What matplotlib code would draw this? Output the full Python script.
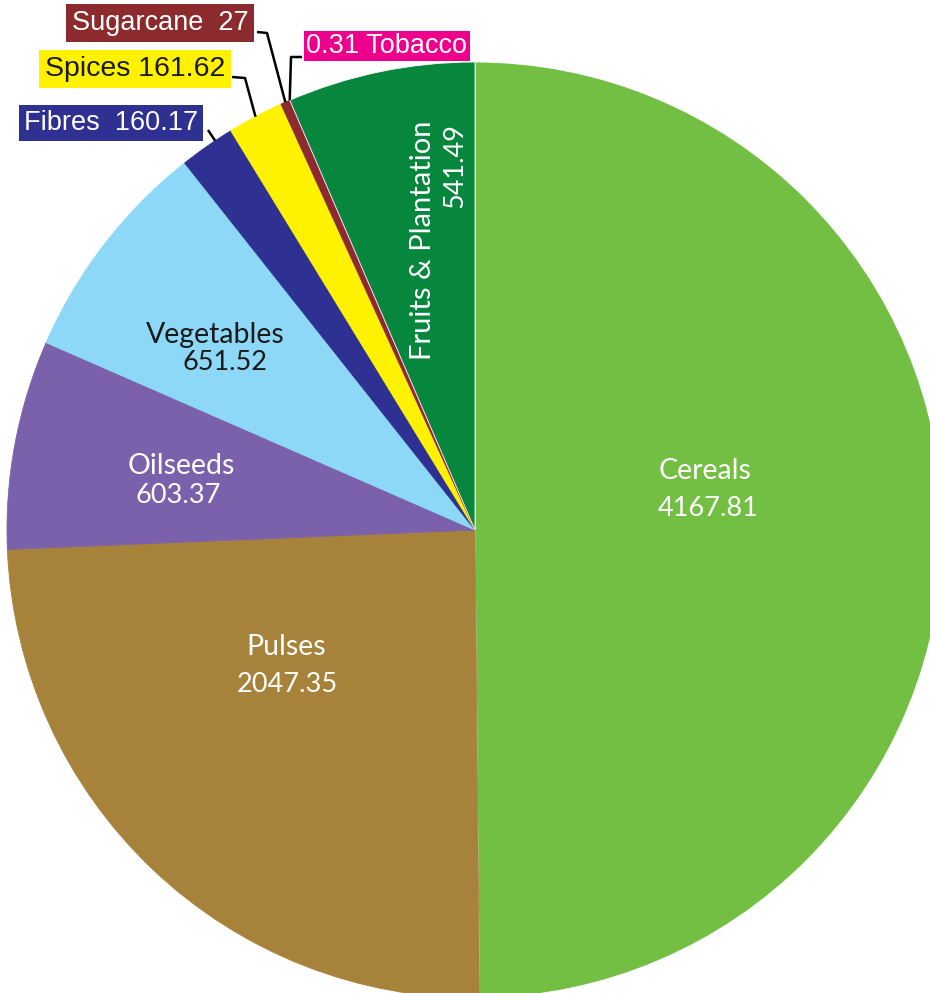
import numpy as np
import matplotlib
matplotlib.use("Agg")
import matplotlib.pyplot as plt

# crop groups and their values
crops = ["Cereals", "Pulses", "Oilseeds", "Vegetables", "Fibres",
         "Spices", "Sugarcane", "Tobacco", "Fruits & Plantation"]
values = [4167.81, 2047.35, 603.37, 651.52, 160.17, 161.62, 27, 0.31, 541.49]
value_text = ["4167.81", "2047.35", "603.37", "651.52", "160.17",
              "161.62", "27", "0.31", "541.49"]
colors = ["#72BF44", "#A6823A", "#7B61AB", "#8ED8F7", "#2E3192",
          "#FFF200", "#8B2B2E", "#EC008C", "#06873D"]

W, H = 930, 993
CX, CY, R = 475, 530, 468   # pie centre / radius in pixels


def px(x, y):
    '''pixel position -> data position (pie radius = 1)'''
    return (x - CX) / R, (CY - y) / R


fig = plt.figure(figsize=(W / 100, H / 100), dpi=100)
ax = fig.add_axes([0, 0, 1, 1])
wedges, _ = ax.pie(values, colors=colors, startangle=90, counterclock=False,
                   radius=1, wedgeprops=dict(edgecolor="white", linewidth=0.6))
for w in wedges[1:-1]:
    w.set_edgecolor(w.get_facecolor())
ax.set_xlim(-CX / R, (W - CX) / R)
ax.set_ylim(-(H - CY) / R, CY / R)
ax.axis("off")

inner_font = ["Lato", "DejaVu Sans"]
box_font = ["Liberation Sans", "DejaVu Sans"]

# labels inside the big wedges: (index, name pos, value pos, text colour)
inside = [
    (0, (705, 471), (708, 509), "white"),
    (1, (286, 647), (287, 684), "white"),
    (2, (181, 466), (178, 496), "white"),
    (3, (215, 335), (225, 362), "#1a1a1a"),
]
for i, p1, p2, c in inside:
    ax.text(*px(*p1), crops[i], ha="center", va="center", color=c,
            fontsize=20.5, family=inner_font)
    ax.text(*px(*p2), value_text[i], ha="center", va="center", color=c,
            fontsize=19.5, family=inner_font)

# fruits & plantation, rotated
ax.text(*px(423, 240), crops[8], ha="center", va="center", color="white",
        fontsize=21, family=inner_font, rotation=90)
ax.text(*px(455, 165), value_text[8], ha="center", va="center",
        color="white", fontsize=19.5, family=inner_font, rotation=90)


def edge_point(w, frac=0.5):
    t = np.deg2rad(w.theta1 + frac * (w.theta2 - w.theta1))
    return np.cos(t), np.sin(t)


# small wedges: labels in coloured boxes with leader lines
# (index, text, text centre, text colour, fontsize, pad, elbow, anchor frac)
outside = [
    (6, "Sugarcane  27", (160, 23), "white", 19.5, 0.22,
     [(257, 32), (267, 33)], 0.5),
    (7, "0.31 Tobacco", (387, 46), "white", 19.5, 0.08,
     [(302, 57), (291, 57)], 0.5),
    (5, "Spices 161.62", (135, 69), "#1a1a1a", 20.5, 0.22,
     [(232, 77), (245, 78)], 0.5),
    (4, "Fibres  160.17", (111, 123), "white", 19.5, 0.18,
     [(208, 130)], 0.33),
]
for i, txt, pos, tc, fs, pad, elbow, frac in outside:
    ax.text(*px(*pos), txt, ha="center", va="center", color=tc, fontsize=fs,
            family=box_font,
            bbox=dict(boxstyle="square,pad=%.2f" % pad, fc=colors[i], ec="none"))
    pts = [px(*e) for e in elbow] + [edge_point(wedges[i], frac)]
    xs, ys = zip(*pts)
    ax.plot(xs, ys, color="black", lw=1.8, solid_capstyle="butt", zorder=1)

fig.savefig("out.png", dpi=100)
